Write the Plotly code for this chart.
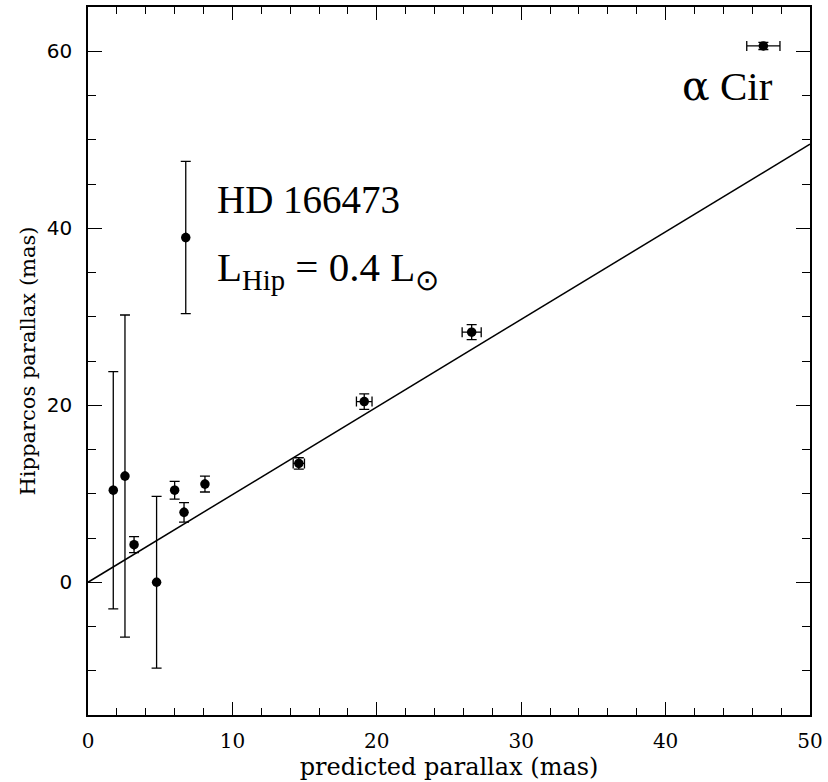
import plotly.graph_objects as go

# Data
pred_x = [1.75, 2.56, 3.19, 4.75, 6.0, 6.65, 8.1, 6.77, 14.6, 19.13, 26.57, 46.77]
hip_y = [10.4, 12.0, 4.25, 0.0, 10.4, 7.9, 11.1, 38.95, 13.43, 20.41, 28.26, 60.6]
hip_err = [13.4, 18.2, 0.9, 9.7, 1.0, 1.1, 0.9, 8.6, 0.64, 0.87, 0.85, 0.4]
pred_err = [0, 0, 0, 0, 0, 0, 0, 0, 0.39, 0.54, 0.66, 1.15]

line_x = [0, 50]
line_y = [0.0, 49.5]

x_range = [0, 50]
y_range = [-15, 65]

fig = go.Figure()

fig.add_trace(go.Scatter(
    x=line_x, y=line_y, mode="lines",
    line=dict(color="black", width=1.5), showlegend=False, hoverinfo="skip"))

fig.add_trace(go.Scatter(
    x=pred_x, y=hip_y, mode="markers",
    marker=dict(color="black", size=9.5, symbol="circle"),
    error_y=dict(type="data", array=hip_err, visible=True, color="black", thickness=1.3, width=5),
    error_x=dict(type="data", array=pred_err, visible=True, color="black", thickness=1.3, width=5),
    showlegend=False))

serif = "Liberation Serif"

fig.add_annotation(x=8.8, y=43.3, text="HD 166473", showarrow=False, xanchor="left", yanchor="middle",
                   font=dict(family=serif, size=39, color="black"))
fig.add_annotation(x=8.8, y=35.3, text="L<sub>Hip</sub> = 0.4 L<sub>⊙</sub>", showarrow=False,
                   xanchor="left", yanchor="middle", font=dict(family=serif, size=41, color="black"))
fig.add_annotation(x=47.6, y=56.1,
                   text="<span style=\"font-family:'DejaVu Serif'\">α</span> Cir",
                   showarrow=False, xanchor="right", yanchor="middle",
                   font=dict(family=serif, size=41, color="black"))

fig.update_xaxes(
    range=x_range, dtick=10, tick0=0, ticks="inside", ticklen=13, tickwidth=1.3, tickcolor="black",
    minor=dict(dtick=2, ticks="inside", ticklen=7, tickwidth=1.2, tickcolor="black"),
    showline=True, linecolor="black", linewidth=1.5, mirror="allticks",
    showgrid=False, zeroline=False, ticklabelstandoff=7,
    tickfont=dict(family="DejaVu Serif", size=20, color="black"),
    title=dict(text="predicted parallax (mas)", font=dict(family="DejaVu Serif", size=24, color="black"),
               standoff=4))

fig.update_yaxes(
    range=y_range, tickvals=[0, 20, 40, 60], ticks="inside", ticklen=14, tickwidth=1.3, tickcolor="black",
    minor=dict(dtick=5, tick0=0, ticks="inside", ticklen=8, tickwidth=1.2, tickcolor="black"),
    showline=True, linecolor="black", linewidth=1.5, mirror="allticks",
    showgrid=False, zeroline=False, ticklabelstandoff=10,
    tickfont=dict(family="DejaVu Sans", size=20, color="black"),
    title=dict(text="Hipparcos parallax (mas)", font=dict(family="DejaVu Serif", size=21, color="black"),
               standoff=5))

fig.update_layout(
    width=828, height=782,
    margin=dict(l=88, r=18, t=5, b=67),
    plot_bgcolor="white", paper_bgcolor="white")

fig.write_html("out.html", config={"displayModeBar": False},
               post_script="document.body.style.margin='0px';document.body.style.padding='0px';")
